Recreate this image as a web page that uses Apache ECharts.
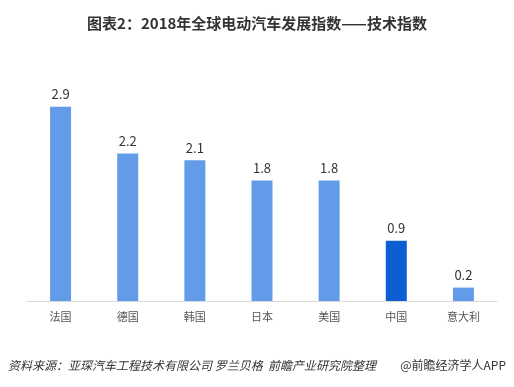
<!DOCTYPE html>
<html><head><meta charset="utf-8">
<script src="https://cdn.jsdelivr.net/npm/echarts@6/dist/echarts.min.js"></script>
<style>html,body{margin:0;padding:0;background:#fff}#c{width:514px;height:387px}</style>
</head><body><div id="c"></div>
<script>
var categories = ['法国','德国','韩国','日本','美国','中国','意大利'];
var values = [2.9, 2.2, 2.1, 1.8, 1.8, 0.9, 0.2];
var highlight = '中国';
var FONT = '"Noto Sans CJK SC", "Noto Sans", sans-serif';
var chart = echarts.init(document.getElementById('c'));
chart.setOption({
  backgroundColor: '#fff',
  animation: false,
  title: {
    text: '图表2：2018年全球电动汽车发展指数——技术指数',
    left: 'center', top: 11,
    textStyle: {fontSize: 15, fontWeight: 'bold', color: '#333', fontFamily: FONT}
  },
  grid: {left: 27, right: 17, top: 100, bottom: 86},
  xAxis: {
    type: 'category', data: categories,
    axisLine: {lineStyle: {color: '#d9d9d9', width: 1}},
    axisTick: {show: false},
    axisLabel: {color: '#555', fontSize: 11, fontFamily: FONT, margin: 10}
  },
  yAxis: {type: 'value', min: 0, max: 3, show: false, splitLine: {show: false}},
  series: [{
    type: 'bar', barWidth: 21,
    data: values.map(function(v, i){
      return {value: v, itemStyle: {color: categories[i] === highlight ? '#0B5FD3' : '#629CE8'}};
    }),
    label: {show: true, position: 'top', distance: 6, color: '#333', fontSize: 13, fontFamily: FONT}
  }],
  graphic: [
    {type: 'text', left: 8, top: 359, style: {text: '资料来源：亚琛汽车工程技术有限公司 罗兰贝格  前瞻产业研究院整理', fill: '#333', font: 'italic 12px ' + FONT}},
    {type: 'text', right: 8, top: 359, style: {text: '@前瞻经济学人APP', fill: '#333', font: '12px ' + FONT}}
  ]
});
</script></body></html>
